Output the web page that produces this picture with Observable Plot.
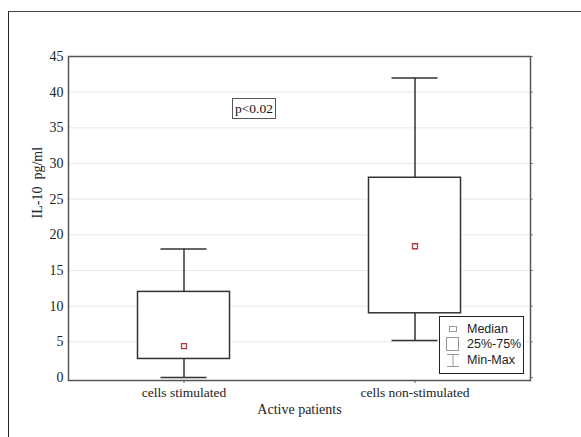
<!DOCTYPE html>
<html>
<head>
<meta charset="utf-8">
<script src="https://cdn.jsdelivr.net/npm/d3@7"></script>
<script src="https://cdn.jsdelivr.net/npm/@observablehq/plot@0.6"></script>
<style>
  html, body { margin: 0; padding: 0; background: #fff; }
  #wrap { position: relative; width: 581px; height: 437px; overflow: hidden; }
  #border { position: absolute; left: 8px; top: 11px; width: 600px; height: 500px; border-left: 1.5px solid #222; border-top: 1.5px solid #444; }
  #chart { position: absolute; left: 0; top: 0; }
  .pbox { position: absolute; left: 232px; top: 98px; width: 42px; height: 19px; border: 1px solid #555; background: #fff;
          font-family: "Liberation Serif", serif; font-size: 13.5px; line-height: 19px; text-align: center; color: #111; }
  .legend { position: absolute; left: 439px; top: 316px; width: 83px; height: 56px; border: 1.5px solid #222; background: #fff;
            font-family: "Liberation Sans", sans-serif; font-size: 12.5px; color: #222; }
  .legend .row { position: absolute; left: 0; height: 16px; line-height: 16px; }
  .legend .row span { position: absolute; left: 27px; white-space: nowrap; }
  .legend svg { position: absolute; left: 3px; top: 0; }
</style>
</head>
<body>
<div id="wrap">
  <div id="border"></div>
  <div id="chart"></div>
</div>
<script>
const groups = ["cells stimulated", "cells non-stimulated"];
const minVals = [0, 5.2];
const q1Vals = [2.6, 9];
const medianVals = [4.4, 18.4];
const q3Vals = [12, 28];
const maxVals = [18, 42];
const yTicks = [0, 5, 10, 15, 20, 25, 30, 35, 40, 45];
const pLabel = "p<0.02";
const legendLabels = ["Median", "25%-75%", "Min-Max"];
const xTitle = "Active patients";
const yTitle = "IL-10  pg/ml";

const data = groups.map((g, i) => ({group: g, min: minVals[i], q1: q1Vals[i], median: medianVals[i], q3: q3Vals[i], max: maxVals[i]}));

const plot = Plot.plot({
  width: 581,
  height: 437,
  marginLeft: 68,
  marginRight: 51,
  marginTop: 56,
  marginBottom: 57,
  style: {fontFamily: "Liberation Serif, serif", fontSize: "13px", color: "#222", background: "transparent"},
  x: {type: "band", domain: groups, padding: 0, label: null},
  y: {domain: [-0.42, 45], ticks: yTicks, label: null},
  marks: [
    Plot.ruleY(yTicks.filter(d => d > 0 && d < 45), {stroke: "#e8e8e8", strokeWidth: 1}),
    Plot.axisY({ticks: yTicks, tickSize: 0, tickPadding: 5, fontSize: 14, label: null}),
    Plot.axisY({ticks: yTicks, anchor: "right", tickSize: 2, tickFormat: () => "", stroke: "#888", label: null}),
    Plot.axisX({tickSize: 3, tickPadding: 4, fontSize: 13.5, label: null, stroke: "#666"}),
    Plot.ruleX(data, {x: "group", y1: "min", y2: "max", stroke: "#333", strokeWidth: 1.5}),
    Plot.tickY(data, {x: "group", y: "min", stroke: "#333", strokeWidth: 1.5, insetLeft: 92.5, insetRight: 92.5}),
    Plot.tickY(data, {x: "group", y: "max", stroke: "#333", strokeWidth: 1.5, insetLeft: 92.5, insetRight: 92.5}),
    Plot.rectY(data, {x: "group", y1: "q1", y2: "q3", fill: "white", stroke: "#333", strokeWidth: 1.5, insetLeft: 69.5, insetRight: 69.5}),
    Plot.dot(data, {x: "group", y: "median", symbol: "square", r: 2.8, stroke: "#b33a3a", strokeWidth: 1.3, fill: "white"}),
    Plot.frame({stroke: "#555", strokeWidth: 1.5}),
    Plot.text([xTitle], {frameAnchor: "bottom", dy: 33, fontSize: 14, fill: "#222"}),
    Plot.text([yTitle], {frameAnchor: "left", dx: -31, rotate: -90, fontSize: 14, fill: "#222"})
  ]
});
document.getElementById("chart").appendChild(plot);

const wrap = document.getElementById("wrap");
const pb = document.createElement("div");
pb.className = "pbox";
pb.textContent = pLabel;
wrap.appendChild(pb);

const lg = document.createElement("div");
lg.className = "legend";
const icons = [
  '<svg width="20" height="16"><rect x="6.5" y="5.5" width="7" height="5" fill="none" stroke="#999" stroke-width="1"/></svg>',
  '<svg width="20" height="16"><rect x="3.5" y="1.5" width="12" height="13" fill="none" stroke="#999" stroke-width="1"/></svg>',
  '<svg width="20" height="16"><line x1="4" y1="2.5" x2="16" y2="2.5" stroke="#999"/><line x1="10" y1="2.5" x2="10" y2="14.5" stroke="#999"/><line x1="4" y1="14.5" x2="16" y2="14.5" stroke="#999"/></svg>'
];
const tops = [4, 19, 35];
legendLabels.forEach((t, i) => {
  const r = document.createElement("div");
  r.className = "row";
  r.style.top = tops[i] + "px";
  r.innerHTML = icons[i] + "<span>" + t + "</span>";
  lg.appendChild(r);
});
wrap.appendChild(lg);
</script>
</body>
</html>
